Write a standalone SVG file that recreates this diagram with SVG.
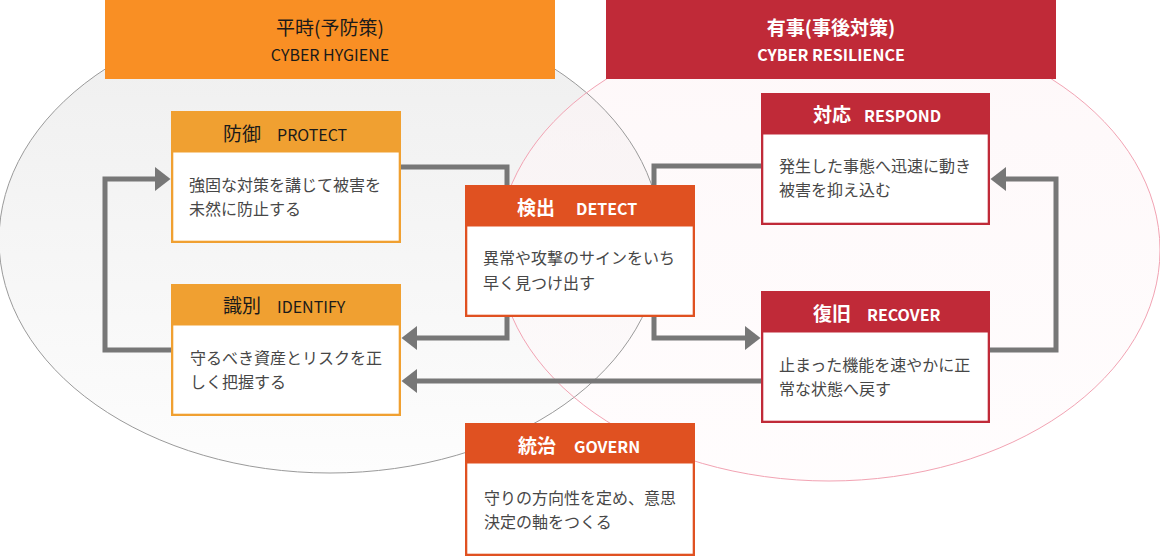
<svg xmlns="http://www.w3.org/2000/svg" width="1160" height="556" viewBox="0 0 1160 556">
<style>
text{font-family:"Noto Sans CJK JP","Noto Sans",sans-serif}
.hd{font-size:19px;text-anchor:middle}
.hs{font-size:16px;text-anchor:middle}
.tj{font-size:19px}
.te{font-size:16px}
.blk{fill:#1a1a1a}
.wht{fill:#fff;font-weight:bold}
.body{font-size:16px;fill:#474747}
.conn{fill:none;stroke:#777;stroke-width:5;stroke-linejoin:miter;stroke-linecap:butt}
.inner{fill:#fff}
</style>
<defs>
<linearGradient id="gL" x1="0" y1="0" x2="0" y2="1"><stop offset="0" stop-color="#eeeeee"/><stop offset="1" stop-color="#fdfdfd"/></linearGradient>
<linearGradient id="gR" x1="0" y1="0" x2="0" y2="1"><stop offset="0" stop-color="#fdf3f5"/><stop offset="1" stop-color="#fffbfc"/></linearGradient>
<marker id="ah" markerUnits="userSpaceOnUse" markerWidth="16" markerHeight="24" refX="0" refY="12" orient="auto" viewBox="0 0 16 24"><path d="M0,0 L15.5,12 L0,24 z" fill="#777"/></marker>
</defs>
<g id="areas">
<ellipse cx="330" cy="240" rx="331" ry="233" fill="url(#gL)"/>
<ellipse cx="829" cy="250" rx="331" ry="231" fill="url(#gR)" fill-opacity="0.6"/>
<ellipse cx="330" cy="240" rx="331" ry="233" fill="none" stroke="#9a9a9a" stroke-width="1"/>
<ellipse cx="829" cy="250" rx="331" ry="231" fill="none" stroke="#f2a3b3" stroke-width="1"/>
</g>
<g id="header-left">
<rect x="105" y="0" width="450" height="79" fill="#f98f24"/>
<text class="hd blk" x="330" y="35">平時(予防策)</text>
<text class="hs blk" x="330" y="61">CYBER HYGIENE</text>
</g>
<g id="header-right">
<rect x="606" y="0" width="450" height="79" fill="#c02a38"/>
<text class="hd wht" x="831" y="35">有事(事後対策)</text>
<text class="hs wht" x="831" y="61">CYBER RESILIENCE</text>
</g>
<g id="connectors">
<path class="conn" d="M171,350 H105 V179 H155" marker-end="url(#ah)"/>
<path class="conn" d="M401,167 H507 V186"/>
<path class="conn" d="M654,186 V166 H762"/>
<path class="conn" d="M507,316 V338 H417" marker-end="url(#ah)"/>
<path class="conn" d="M654,316 V338 H745" marker-end="url(#ah)"/>
<path class="conn" d="M762,381 H417" marker-end="url(#ah)"/>
<path class="conn" d="M989,350 H1056 V179 H1006" marker-end="url(#ah)"/>
</g>
<g id="protect">
<rect x="171" y="111" width="230" height="132" fill="#f0a031"/>
<rect class="inner" x="173.3" y="152.5" width="225.4" height="88.2"/>
<text class="tj blk" x="223" y="141">防御</text>
<text class="te blk" x="277" y="141">PROTECT</text>
<text class="body" x="189" y="191">強固な対策を講じて被害を</text>
<text class="body" x="189" y="215">未然に防止する</text>
</g>
<g id="identify">
<rect x="171" y="284" width="230" height="132" fill="#f0a031"/>
<rect class="inner" x="173.3" y="325.5" width="225.4" height="88.2"/>
<text class="tj blk" x="223" y="313">識別</text>
<text class="te blk" x="277" y="313">IDENTIFY</text>
<text class="body" x="190" y="364">守るべき資産とリスクを正</text>
<text class="body" x="190" y="388">しく把握する</text>
</g>
<g id="detect">
<rect x="465" y="185" width="230" height="132" fill="#e05121"/>
<rect class="inner" x="467.3" y="226.5" width="225.4" height="88.2"/>
<text class="tj wht" x="517" y="215">検出</text>
<text class="te wht" x="576" y="215">DETECT</text>
<text class="body" x="483" y="264">異常や攻撃のサインをいち</text>
<text class="body" x="483" y="289">早く見つけ出す</text>
</g>
<g id="govern">
<rect x="465" y="423" width="230" height="133" fill="#e05121"/>
<rect class="inner" x="467.3" y="463.5" width="225.4" height="90.2"/>
<text class="tj wht" x="518" y="453">統治</text>
<text class="te wht" x="574" y="453">GOVERN</text>
<text class="body" x="484" y="504">守りの方向性を定め、意思</text>
<text class="body" x="484" y="528">決定の軸をつくる</text>
</g>
<g id="respond">
<rect x="761" y="93" width="229" height="132" fill="#c02a38"/>
<rect class="inner" x="763.3" y="134.5" width="224.4" height="88.2"/>
<text class="tj wht" x="813" y="122">対応</text>
<text class="te wht" x="864" y="122">RESPOND</text>
<text class="body" x="779" y="172">発生した事態へ迅速に動き</text>
<text class="body" x="779" y="196">被害を抑え込む</text>
</g>
<g id="recover">
<rect x="761" y="291" width="229" height="132" fill="#c02a38"/>
<rect class="inner" x="763.3" y="332.5" width="224.4" height="88.2"/>
<text class="tj wht" x="813" y="321">復旧</text>
<text class="te wht" x="867" y="321">RECOVER</text>
<text class="body" x="779" y="371">止まった機能を速やかに正</text>
<text class="body" x="779" y="395">常な状態へ戻す</text>
</g>
</svg>
